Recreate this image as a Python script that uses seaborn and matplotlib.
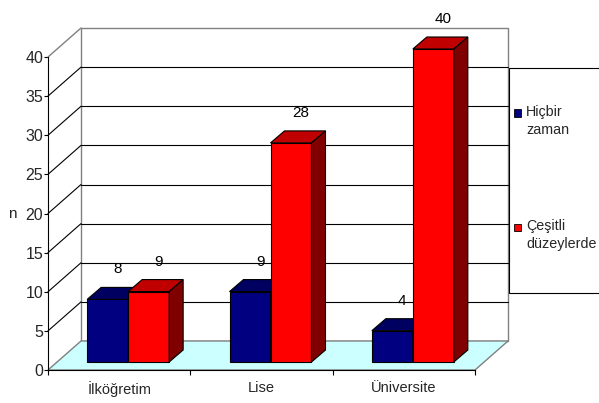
import pandas as pd
import matplotlib
matplotlib.use("Agg")
import matplotlib.pyplot as plt
from matplotlib.patches import Polygon, Rectangle
import seaborn as sns

# Veriler
categories = ["İlköğretim", "Lise", "Üniversite"]
series_names = ["Hiçbir\nzaman", "Çeşitli\ndüzeylerde"]
hicbir = [8, 9, 4]
cesitli = [9, 28, 40]
y_ticks = [0, 5, 10, 15, 20, 25, 30, 35, 40]

front_colors = ["#000080", "#FF0000"]
top_colors = ["#000060", "#C00000"]
side_colors = ["#000040", "#800000"]
gray = "#808080"

df = pd.DataFrame({
    "kategori": categories * 2,
    "seri": [series_names[0]] * len(categories) + [series_names[1]] * len(categories),
    "n": hicbir + cesitli,
})

sns.set_theme(style="white")
plt.rcParams["font.family"] = ["Liberation Sans", "DejaVu Sans"]
plt.rcParams["font.size"] = 10.5

W, H = 599, 403
fig = plt.figure(figsize=(W / 100, H / 100), dpi=100)
# ön eksen kutusu (piksel)
x0, x1, y0, y1 = 48, 475, 370, 57
ax = fig.add_axes([x0 / W, (H - y0) / H, (x1 - x0) / W, (y0 - y1) / H])
ax.patch.set_alpha(0)

sns.barplot(data=df, x="kategori", y="n", hue="seri", palette=front_colors,
            width=0.576, saturation=1, edgecolor="black", linewidth=0.8,
            legend=False, ax=ax)
ax.set_xlim(-0.5, 2.5)
ax.set_ylim(0, 40)

# piksel -> veri birimi
px_x = 3 / (x1 - x0)
px_y = 40 / (y0 - y1)
wx, wy = 33 * px_x, 29 * px_y   # arka duvar derinliği
bx, by = 9 * px_x, 8 * px_y     # çubuk ön yüz kayması
dx, dy = 14 * px_x, 12 * px_y   # çubuk derinliği

# zemin ve arka duvar
ax.add_patch(Rectangle((-0.5 + wx, wy), 3, 40, facecolor="white", edgecolor=gray,
                       linewidth=1, zorder=0.5, clip_on=False))
ax.add_patch(Polygon([(-0.5, 0), (2.5, 0), (2.5 + wx, wy), (-0.5 + wx, wy)],
                     closed=True, facecolor="#CCFFFF", edgecolor=gray,
                     linewidth=1, zorder=1, clip_on=False))
for v in y_ticks[1:-1]:
    ax.plot([-0.5 + wx, 2.5 + wx], [v + wy, v + wy], color="black", lw=0.8,
            zorder=0.8, clip_on=False)
    ax.plot([-0.5, -0.5 + wx], [v, v + wy], color="black", lw=0.8,
            zorder=0.8, clip_on=False)
ax.plot([-0.5, -0.5 + wx], [40, 40 + wy], color=gray, lw=1, zorder=0.8, clip_on=False)

# 3B çubuklar
for i, cont in enumerate(ax.containers):
    for bar in cont:
        x = bar.get_x() + bx
        w = bar.get_width()
        h = bar.get_height()
        bar.set_x(x)
        bar.set_y(by)
        bar.set_zorder(5 + i)
        bar.set_clip_on(False)
        top = [(x, by + h), (x + w, by + h), (x + w + dx, by + h + dy), (x + dx, by + h + dy)]
        side = [(x + w, by), (x + w, by + h), (x + w + dx, by + h + dy), (x + w + dx, by + dy)]
        ax.add_patch(Polygon(top, closed=True, facecolor=top_colors[i], edgecolor="black",
                             linewidth=0.8, zorder=5 + i, clip_on=False))
        ax.add_patch(Polygon(side, closed=True, facecolor=side_colors[i], edgecolor="black",
                             linewidth=0.8, zorder=5 + i, clip_on=False))
        ax.text(x + w / 2 + 10 * px_x, h + by + dy + 2.3, f"{h:g}", ha="center",
                va="center", fontsize=11, color="black", zorder=10, clip_on=False)

# eksenler
for s in ["top", "right"]:
    ax.spines[s].set_visible(False)
for s in ["left", "bottom"]:
    ax.spines[s].set_color("black")
    ax.spines[s].set_linewidth(0.8)
    ax.spines[s].set_zorder(3)
ax.set_yticks(y_ticks)
ax.set_xticks(range(len(categories)))
ax.set_xticklabels(categories)
ax.set_xticks([-0.5, 0.5, 1.5, 2.5], minor=True)
ax.tick_params(axis="y", direction="out", length=3, width=0.8, color="black",
               pad=0.5, labelsize=11.5, left=True)
ax.tick_params(axis="x", which="major", length=0, pad=8, labelsize=10.5)
ax.tick_params(axis="x", which="minor", direction="out", length=3.6, width=0.8,
               color="black", bottom=True)
ax.set_xlabel("")
ax.set_ylabel("n", rotation=0, fontsize=11, va="center", ha="center")
ax.yaxis.set_label_coords(-0.084, 0.5)

# gösterge
fig.patches.append(Rectangle((509 / W, (H - 293) / H), 0.2, (293 - 68) / H,
                             transform=fig.transFigure, facecolor="white",
                             edgecolor="black", linewidth=0.8, zorder=20))
for i, name in enumerate(series_names):
    yc = 113 + i * 114
    fig.patches.append(Rectangle((514 / W, (H - yc - 3.5) / H), 7 / W, 7 / H,
                                 transform=fig.transFigure, facecolor=front_colors[i],
                                 edgecolor="black", linewidth=0.6, zorder=21))
    fig.text(526 / W, (H - yc + 8) / H, name, ha="left", va="top", fontsize=10.3,
             linespacing=1.4, zorder=22)

fig.savefig("out.png", dpi=100)
